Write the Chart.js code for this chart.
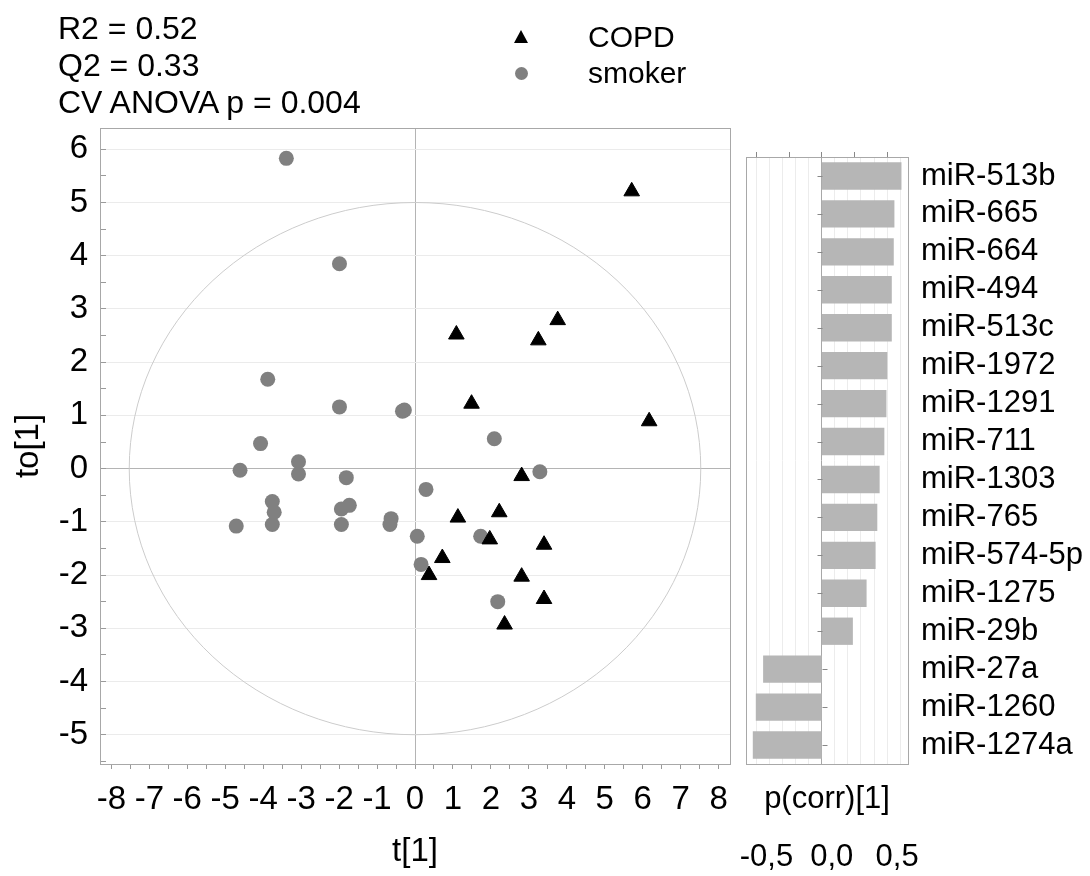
<!DOCTYPE html>
<html lang="en">
<head>
<meta charset="UTF-8">
<title>OPLS-DA COPD / smoker</title>
<script src="https://cdn.jsdelivr.net/npm/chart.js"></script>
<style>
    body { margin: 0; background: #fff; font-family: "Liberation Sans", Arial, sans-serif; color: #000; }
    #wrap { position: relative; width: 1090px; height: 876px; overflow: hidden; }
    #scatter { position: absolute; left: 0; top: 0; }
    #loadings { position: absolute; left: 740px; top: 0; }
    .stats { position: absolute; left: 58px; top: 10px; font-size: 32px; line-height: 37px; white-space: nowrap; }
    .legend { position: absolute; left: 510px; top: 19px; font-size: 30px; line-height: 36px; }
    .legend div { position: relative; padding-left: 78px; white-space: nowrap; }
    .tri { position: absolute; left: 4px; top: 11px; width: 0; height: 0;
           border-left: 7px solid transparent; border-right: 7px solid transparent; border-bottom: 13px solid #000; }
    .dot { position: absolute; left: 5px; top: 12px; width: 13px; height: 13px; border-radius: 50%; background: #808080; }
</style>
</head>
<body>
<div id="wrap">
    <canvas id="scatter" width="740" height="876"></canvas>
    <canvas id="loadings" width="350" height="876"></canvas>
    <div class="stats">
        <div>R2 = 0.52</div>
        <div>Q2 = 0.33</div>
        <div>CV ANOVA p = 0.004</div>
    </div>
    <div class="legend">
        <div><span class="tri"></span>COPD</div>
        <div><span class="dot"></span>smoker</div>
    </div>
</div>
<script>
    // score plot: predictive t[1] vs orthogonal to[1]
    const copdT  = [5.71, 1.09, 3.76, 3.25, 1.49, 6.17, 2.81, 1.13, 2.22, 1.97, 3.40, 0.72, 0.37, 2.81, 3.40, 2.36];
    const copdTo = [5.21, 2.52, 2.79, 2.41, 1.22, 0.89, -0.14, -0.92, -0.82, -1.33, -1.43, -1.68, -2.00, -2.03, -2.45, -2.93];

    const smokerT  = [-3.39, -1.99, -3.88, -1.99, -0.33, -0.28, -4.07, -3.07, -4.61, -3.07, -1.81, -3.76, -3.71, -3.76,
                      -4.71, -1.94, -1.73, -1.94, -0.63, -0.66, 0.06, 0.16, 2.09, 3.29, 0.29, 1.73, 2.18];
    const smokerTo = [5.83, 3.85, 1.68, 1.16, 1.08, 1.10, 0.47, 0.13, -0.03, -0.10, -0.17, -0.62, -0.82, -1.05,
                      -1.08, -0.76, -0.69, -1.05, -0.94, -1.05, -1.27, -1.80, 0.56, -0.06, -0.39, -1.27, -2.50];

    // Hotelling T2 ellipse half-axes
    const t2RadiusT = 7.53;
    const t2RadiusTo = 5.0;

    // loadings p(corr)[1]
    const mirNames = ['miR-513b', 'miR-665', 'miR-664', 'miR-494', 'miR-513c', 'miR-1972', 'miR-1291', 'miR-711',
                      'miR-1303', 'miR-765', 'miR-574-5p', 'miR-1275', 'miR-29b', 'miR-27a', 'miR-1260', 'miR-1274a'];
    const pCorr = [0.61, 0.556, 0.551, 0.536, 0.536, 0.502, 0.495, 0.479,
                   0.443, 0.425, 0.412, 0.343, 0.238, -0.449, -0.505, -0.528];
    const pCorrTicks = [-0.5, 0, 0.5];

    const FONT = { family: '"Liberation Sans", Arial, sans-serif', size: 33 };
    const BAR_FONT = { family: '"Liberation Sans", Arial, sans-serif', size: 31 };
    const toPoints = (xs, ys) => xs.map((x, i) => ({ x: x, y: ys[i] }));
    const isWhole = v => Math.abs(v - Math.round(v)) < 1e-9;

    const framePlugin = {
        id: 'frame',
        afterDraw(chart) {
            const a = chart.chartArea, ctx = chart.ctx;
            ctx.save();
            ctx.strokeStyle = '#a8a8a8';
            ctx.lineWidth = 1;
            ctx.strokeRect(Math.round(a.left) + 0.5, Math.round(a.top) + 0.5,
                           Math.round(a.right - a.left), Math.round(a.bottom - a.top));
            ctx.restore();
        }
    };

    const ellipsePlugin = {
        id: 'ellipse',
        beforeDatasetsDraw(chart) {
            const xs = chart.scales.x, ys = chart.scales.y, ctx = chart.ctx;
            const cx = xs.getPixelForValue(0), cy = ys.getPixelForValue(0);
            const rx = xs.getPixelForValue(t2RadiusT) - cx;
            const ry = cy - ys.getPixelForValue(t2RadiusTo);
            ctx.save();
            ctx.strokeStyle = '#cccccc';
            ctx.lineWidth = 1;
            ctx.beginPath();
            ctx.ellipse(cx, cy, rx, ry, 0, 0, Math.PI * 2);
            ctx.stroke();
            ctx.restore();
        }
    };

    new Chart(document.getElementById('scatter'), {
        type: 'scatter',
        data: {
            datasets: [
                {
                    label: 'COPD',
                    data: toPoints(copdT, copdTo),
                    pointStyle: 'triangle',
                    pointRadius: 9,
                    backgroundColor: '#000',
                    borderColor: '#000',
                    borderWidth: 1
                },
                {
                    label: 'smoker',
                    data: toPoints(smokerT, smokerTo),
                    pointStyle: 'circle',
                    pointRadius: 7.5,
                    backgroundColor: '#808080',
                    borderColor: '#808080',
                    borderWidth: 0
                }
            ]
        },
        options: {
            responsive: false,
            animation: false,
            layout: { padding: { top: 128, right: 7, left: 0, bottom: 0 } },
            plugins: { legend: { display: false }, tooltip: { enabled: false } },
            scales: {
                x: {
                    min: -8.3, max: 8.3,
                    afterFit: s => { s.height = 112; s.paddingLeft = 0; s.paddingRight = 0; },
                    border: { display: false },
                    grid: {
                        color: c => (c.tick && c.tick.value === 0) ? '#b4b4b4' : 'rgba(0,0,0,0)',
                        tickColor: '#9a9a9a',
                        tickLength: 5
                    },
                    ticks: {
                        stepSize: 0.5, includeBounds: false, autoSkip: false,
                        maxRotation: 0, minRotation: 0, padding: 11,
                        color: '#000', font: FONT,
                        callback: v => isWhole(v) ? String(Math.round(v)) : ''
                    },
                    title: { display: true, text: 't[1]', color: '#000', font: FONT, padding: { top: 0, bottom: 4 } }
                },
                y: {
                    min: -5.55, max: 6.4,
                    afterFit: s => { s.width = 100; },
                    border: { display: false },
                    grid: {
                        color: c => {
                            if (!c.tick) return 'rgba(0,0,0,0)';
                            if (c.tick.value === 0) return '#b4b4b4';
                            return isWhole(c.tick.value) ? '#ebebeb' : 'rgba(0,0,0,0)';
                        },
                        tickColor: '#9a9a9a',
                        // marks point into the plot
                        tickLength: -6
                    },
                    ticks: {
                        stepSize: 0.5, includeBounds: false, autoSkip: false, padding: 18,
                        color: '#000', font: FONT,
                        callback: v => isWhole(v) ? String(Math.round(v)) : ''
                    },
                    title: { display: true, text: 'to[1]', color: '#000', font: FONT, padding: { top: 9, bottom: 0 } }
                }
            }
        },
        plugins: [ellipsePlugin, framePlugin]
    });

    // little marks on the zero line, one per miRNA, on the side opposite the bar
    const zeroTicksPlugin = {
        id: 'zeroTicks',
        afterDatasetsDraw(chart) {
            const xs = chart.scales.x, ys = chart.scales.y, ctx = chart.ctx;
            const x0 = Math.round(xs.getPixelForValue(0)) + 0.5;
            ctx.save();
            ctx.strokeStyle = '#888';
            ctx.lineWidth = 1;
            pCorr.forEach((v, i) => {
                const y = Math.round(ys.getPixelForValue(i)) + 0.5;
                ctx.beginPath();
                ctx.moveTo(x0, y);
                ctx.lineTo(v > 0 ? x0 - 5 : x0 + 5, y);
                ctx.stroke();
            });
            ctx.restore();
        }
    };

    const fmtComma = v => v.toFixed(1).replace('.', ',');
    const hundredths = v => Math.round(v * 100);
    const noSidePadding = s => { s.paddingLeft = 0; s.paddingRight = 0; };

    new Chart(document.getElementById('loadings'), {
        type: 'bar',
        data: {
            labels: mirNames,
            datasets: [{
                label: 'p(corr)[1]',
                data: pCorr,
                backgroundColor: '#b6b6b6',
                borderWidth: 0,
                barPercentage: 0.72,
                categoryPercentage: 1
            }]
        },
        options: {
            indexAxis: 'y',
            responsive: false,
            animation: false,
            layout: { padding: { top: 0, right: 0, left: 6, bottom: 0 } },
            plugins: { legend: { display: false }, tooltip: { enabled: false } },
            scales: {
                y: {
                    position: 'right',
                    afterFit: s => { s.width = 182; s.paddingTop = 0; s.paddingBottom = 0; },
                    border: { display: false },
                    grid: { display: false },
                    ticks: { color: '#000', font: BAR_FONT, padding: 5, autoSkip: false }
                },
                // value axis with the tick labels, furthest from the panel
                x: {
                    position: 'bottom',
                    weight: 1,
                    min: -0.58, max: 0.66,
                    afterBuildTicks: s => { s.ticks = pCorrTicks.map(v => ({ value: v })); },
                    afterFit: s => { s.height = 52; noSidePadding(s); },
                    border: { display: false },
                    grid: { display: false },
                    ticks: { color: '#000', font: BAR_FONT, padding: 7, maxRotation: 0, autoSkip: false,
                             labelOffset: 10, callback: v => fmtComma(v) }
                },
                // axis title, right under the panel
                xTitle: {
                    type: 'linear', axis: 'x',
                    position: 'bottom',
                    weight: 0,
                    min: -0.58, max: 0.66,
                    afterFit: s => { s.height = 60; noSidePadding(s); },
                    border: { display: false },
                    grid: { display: false },
                    ticks: { display: false },
                    title: { display: true, text: 'p(corr)[1]', color: '#000', font: BAR_FONT, padding: { top: 0, bottom: 6 } }
                },
                // fine grid every 0.1, tick marks every 0.25 on top
                xGrid: {
                    type: 'linear', axis: 'x',
                    position: 'top',
                    min: -0.58, max: 0.66,
                    afterFit: s => { s.height = 157; noSidePadding(s); },
                    border: { display: false },
                    grid: {
                        color: c => {
                            if (!c.tick) return 'rgba(0,0,0,0)';
                            const h = hundredths(c.tick.value);
                            if (h === 0) return '#a8a8a8';
                            return h % 10 === 0 ? '#ececec' : 'rgba(0,0,0,0)';
                        },
                        tickColor: c => (c.tick && hundredths(c.tick.value) % 25 === 0) ? '#888' : 'rgba(0,0,0,0)',
                        tickLength: 5
                    },
                    ticks: { stepSize: 0.05, includeBounds: false, display: false }
                }
            }
        },
        plugins: [zeroTicksPlugin, framePlugin]
    });
</script>
</body>
</html>
